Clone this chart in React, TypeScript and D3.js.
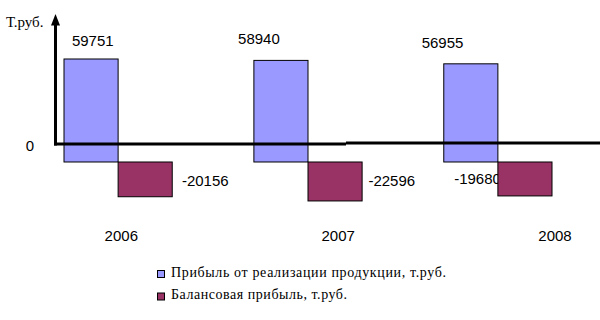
import React from "react";
import * as d3 from "d3";

// ---- data ----
const years = ["2006", "2007", "2008"];
const salesProfit = [59751, 58940, 56955];
const balanceProfit = [-20156, -22596, -19680];
const seriesNames = [
  "Прибыль от реализации продукции, т.руб.",
  "Балансовая прибыль, т.руб.",
];
const seriesKeys = ["sales", "balance"];
const yUnitLabel = "Т.руб.";
const zeroTickLabel = "0";

// ---- layout / style ----
const W = 600;
const H = 320;
const colors = ["#9999ff", "#993366"];
const numFont = "Liberation Sans, Arial, sans-serif";
const serifFont = "Liberation Serif, DejaVu Serif, Times New Roman, serif";
const posNudge = [
  { dx: 1.7, dy: -13 },
  { dx: -22, dy: -16.4 },
  { dx: -28.3, dy: -15.8 },
];
const negNudge = [
  { anchor: "start", dx: 9.7, dy: 24 },
  { anchor: "start", dx: 6.3, dy: 24 },
  { anchor: "end", dx: 3, dy: 22 },
];

export default function App() {
  const x = d3
    .scaleBand<string>()
    .domain(years)
    .range([64, 552])
    .paddingInner(0.43)
    .paddingOuter(0);
  const xs = d3
    .scaleBand<string>()
    .domain(seriesKeys)
    .range([0, x.bandwidth()]);
  const y = d3.scaleLinear().domain([-30000, 70000]).range([213.71, 41.33]);
  const yearPos = d3.scalePoint<string>().domain(years).range([121.3, 555]);

  const bw = xs.bandwidth();
  const y0 = y(0);

  return (
    <svg
      width={W}
      height={H}
      style={{ position: "absolute", left: 0, top: 0, background: "#fff" }}
    >
      <rect x={0} y={0} width={W} height={H} fill="#ffffff" />
      {/* value labels (under bars) */}
      {years.map((yr, i) => {
        const xa = (x(yr) as number) + (xs("sales") as number);
        const xb = (x(yr) as number) + (xs("balance") as number);
        const n = negNudge[i];
        const nx = n.anchor === "start" ? xb + bw + n.dx : xb + n.dx;
        return (
          <g key={"l" + yr} fontFamily={numFont} fontSize={15} fill="#000">
            <text
              x={xa + bw / 2 + posNudge[i].dx}
              y={y(salesProfit[i]) + posNudge[i].dy}
              textAnchor="middle"
            >
              {salesProfit[i]}
            </text>
            <text x={nx} y={y0 + n.dy} textAnchor={n.anchor as any}>
              {balanceProfit[i]}
            </text>
          </g>
        );
      })}
      {/* bars */}
      {years.map((yr, i) => {
        const xa = (x(yr) as number) + (xs("sales") as number);
        const xb = (x(yr) as number) + (xs("balance") as number);
        const va = salesProfit[i];
        const vb = balanceProfit[i];
        return (
          <g key={yr}>
            <rect
              x={xa}
              y={y(va)}
              width={bw}
              height={y0 - y(va)}
              fill={colors[0]}
              stroke="#000"
              strokeWidth={1}
            />
            <rect
              x={xb}
              y={y0}
              width={bw}
              height={y(vb) - y0}
              fill={colors[1]}
              stroke="#000"
              strokeWidth={1}
            />
          </g>
        );
      })}
      {/* axis lines */}
      <line x1={55.5} y1={24} x2={55.5} y2={145.5} stroke="#000" strokeWidth={3} />
      <path d="M55.5,14 L51,25.5 L60,25.5 Z" fill="#000" />
      <line x1={54} y1={144} x2={346} y2={144} stroke="#000" strokeWidth={3} />
      <line x1={346} y1={143} x2={600} y2={143} stroke="#000" strokeWidth={3} />

      {/* year labels */}
      {years.map((yr) => (
        <text
          key={"y" + yr}
          x={yearPos(yr)}
          y={241}
          textAnchor="middle"
          fontFamily={numFont}
          fontSize={15}
          fill="#000"
        >
          {yr}
        </text>
      ))}

      {/* y axis texts */}
      <text x={30} y={151} textAnchor="middle" fontFamily={numFont} fontSize={15}>
        {zeroTickLabel}
      </text>
      <text x={6} y={26.7} fontFamily={serifFont} fontSize={15}>
        {yUnitLabel}
      </text>

      {/* legend */}
      {seriesNames.map((name, i) => (
        <g key={"lg" + i} transform={`translate(0, ${i * 22.5})`}>
          <rect
            x={157.5}
            y={270.5}
            width={7}
            height={7}
            fill={colors[i]}
            stroke="#000"
            strokeWidth={1}
          />
          <text
            x={171}
            y={276.5}
            fontFamily={serifFont}
            fontSize={14}
            textLength={i === 0 ? 275 : 176}
            lengthAdjust="spacing"
            fill="#000"
          >
            {name}
          </text>
        </g>
      ))}
    </svg>
  );
}
